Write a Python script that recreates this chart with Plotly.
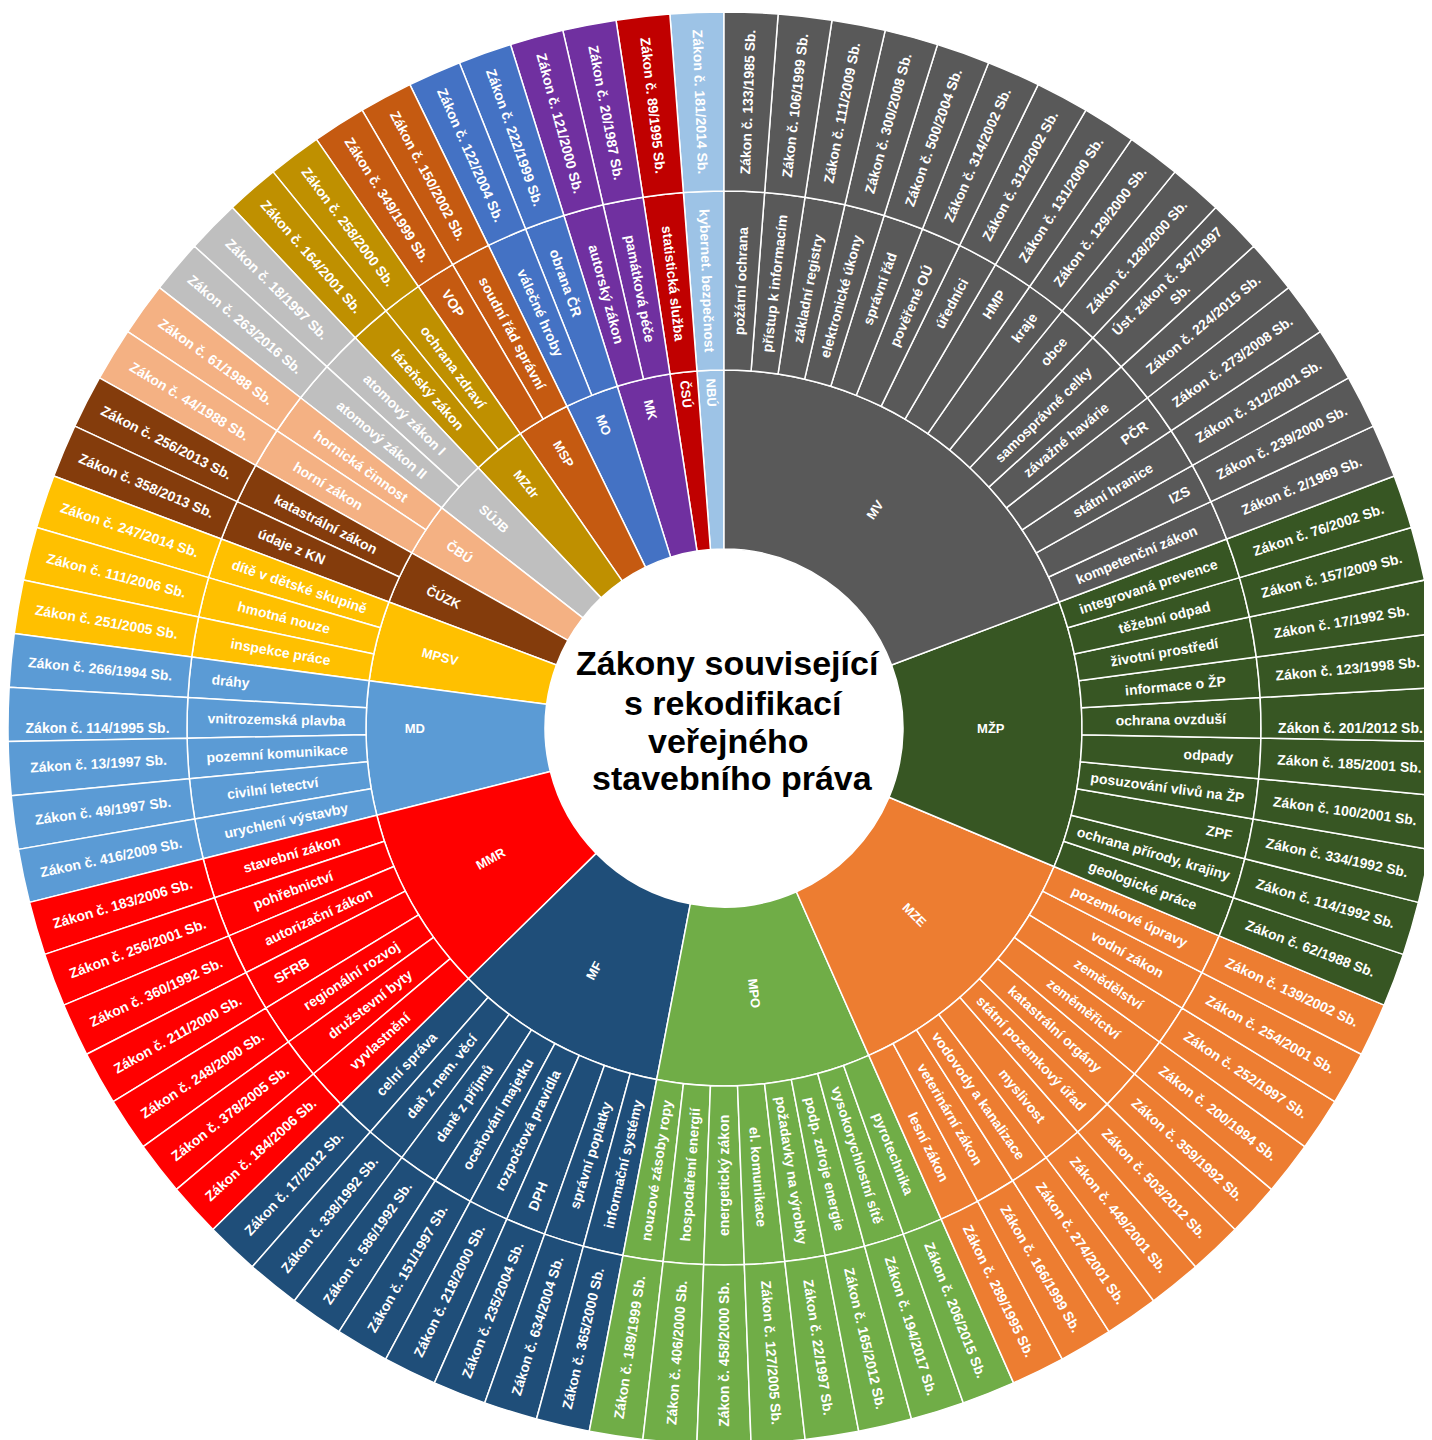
import plotly.graph_objects as go

# ---------------- data (clockwise from 12 o'clock) ----------------
ministries = ["MV", "MŽP", "MZE", "MPO", "MF", "MMR", "MD", "MPSV", "ČÚZK",
              "ČBÚ", "SÚJB", "MZdr", "MSP", "MO", "MK", "ČSÚ", "NBÚ"]
ministry_colors = ["#595959", "#375623", "#ED7D31", "#70AD47", "#1F4E79",
                   "#FF0000", "#5B9BD5", "#FFC000", "#843C0C", "#F4B183",
                   "#BFBFBF", "#BF9000", "#C55A11", "#4472C4", "#7030A0",
                   "#C00000", "#9DC3E6"]
topic_counts = [16, 10, 10, 8, 8, 7, 5, 3, 2, 2, 2, 2, 2, 2, 2, 1, 1]

topics = [
    # MV
    "požární ochrana", "přístup k informacím", "základní registry",
    "elektronické úkony", "správní řád", "pověřené OÚ", "úředníci", "HMP",
    "kraje", "obce", "samosprávné celky", "závažné havárie", "PČR",
    "státní hranice", "IZS", "kompetenční zákon",
    # MŽP
    "integrovaná prevence", "těžební odpad", "životní prostředí",
    "informace o ŽP", "ochrana ovzduší", "odpady", "posuzování vlivů na ŽP",
    "ZPF", "ochrana přírody, krajiny", "geologické práce",
    # MZE
    "pozemkové úpravy", "vodní zákon", "zemědělství", "zeměměřictví",
    "katastrální orgány", "státní pozemkový úřad", "myslivost",
    "vodovody a kanalizace", "veterinární zákon", "lesní zákon",
    # MPO
    "pyrotechnika", "vysokorychlostní sítě", "podp. zdroje energie",
    "požadavky na výrobky", "el. komunikace", "energetický zákon",
    "hospodaření energií", "nouzové zásoby ropy",
    # MF
    "informační systémy", "správní poplatky", "DPH", "rozpočtová pravidla",
    "oceňování majetku", "daně z příjmů", "daň z nem. věcí", "celní správa",
    # MMR
    "vyvlastnění", "družstevní byty", "regionální rozvoj", "SFRB",
    "autorizační zákon", "pohřebnictví", "stavební zákon",
    # MD
    "urychlení výstavby", "civilní letectví", "pozemní komunikace",
    "vnitrozemská plavba", "dráhy",
    # MPSV
    "inspekce práce", "hmotná nouze", "dítě v dětské skupině",
    # ČÚZK
    "údaje z KN", "katastrální zákon",
    # ČBÚ
    "horní zákon", "hornická činnost",
    # SÚJB
    "atomový zákon II", "atomový zákon I",
    # MZdr
    "lázeňský zákon", "ochrana zdraví",
    # MSP
    "VOP", "soudní řád správní",
    # MO
    "válečné hroby", "obrana ČR",
    # MK
    "autorský zákon", "památková péče",
    # ČSÚ
    "statistická služba",
    # NBÚ
    "kybernet. bezpečnost",
]

laws = [
    # MV
    "Zákon č. 133/1985 Sb.", "Zákon č. 106/1999 Sb.", "Zákon č. 111/2009 Sb.",
    "Zákon č. 300/2008 Sb.", "Zákon č. 500/2004 Sb.", "Zákon č. 314/2002 Sb.",
    "Zákon č. 312/2002 Sb.", "Zákon č. 131/2000 Sb.", "Zákon č. 129/2000 Sb.",
    "Zákon č. 128/2000 Sb.", "Úst. zákon č. 347/1997<br>Sb.",
    "Zákon č. 224/2015 Sb.", "Zákon č. 273/2008 Sb.", "Zákon č. 312/2001 Sb.",
    "Zákon č. 239/2000 Sb.", "Zákon č. 2/1969 Sb.",
    # MŽP
    "Zákon č. 76/2002 Sb.", "Zákon č. 157/2009 Sb.", "Zákon č. 17/1992 Sb.",
    "Zákon č. 123/1998 Sb.", "Zákon č. 201/2012 Sb.", "Zákon č. 185/2001 Sb.",
    "Zákon č. 100/2001 Sb.", "Zákon č. 334/1992 Sb.", "Zákon č. 114/1992 Sb.",
    "Zákon č. 62/1988 Sb.",
    # MZE
    "Zákon č. 139/2002 Sb.", "Zákon č. 254/2001 Sb.", "Zákon č. 252/1997 Sb.",
    "Zákon č. 200/1994 Sb.", "Zákon č. 359/1992 Sb.", "Zákon č. 503/2012 Sb.",
    "Zákon č. 449/2001 Sb.", "Zákon č. 274/2001 Sb.", "Zákon č. 166/1999 Sb.",
    "Zákon č. 289/1995 Sb.",
    # MPO
    "Zákon č. 206/2015 Sb.", "Zákon č. 194/2017 Sb.", "Zákon č. 165/2012 Sb.",
    "Zákon č. 22/1997 Sb.", "Zákon č. 127/2005 Sb.", "Zákon č. 458/2000 Sb.",
    "Zákon č. 406/2000 Sb.", "Zákon č. 189/1999 Sb.",
    # MF
    "Zákon č. 365/2000 Sb.", "Zákon č. 634/2004 Sb.", "Zákon č. 235/2004 Sb.",
    "Zákon č. 218/2000 Sb.", "Zákon č. 151/1997 Sb.", "Zákon č. 586/1992 Sb.",
    "Zákon č. 338/1992 Sb.", "Zákon č. 17/2012 Sb.",
    # MMR
    "Zákon č. 184/2006 Sb.", "Zákon č. 378/2005 Sb.", "Zákon č. 248/2000 Sb.",
    "Zákon č. 211/2000 Sb.", "Zákon č. 360/1992 Sb.", "Zákon č. 256/2001 Sb.",
    "Zákon č. 183/2006 Sb.",
    # MD
    "Zákon č. 416/2009 Sb.", "Zákon č. 49/1997 Sb.", "Zákon č. 13/1997 Sb.",
    "Zákon č. 114/1995 Sb.", "Zákon č. 266/1994 Sb.",
    # MPSV
    "Zákon č. 251/2005 Sb.", "Zákon č. 111/2006 Sb.", "Zákon č. 247/2014 Sb.",
    # ČÚZK
    "Zákon č. 358/2013 Sb.", "Zákon č. 256/2013 Sb.",
    # ČBÚ
    "Zákon č. 44/1988 Sb.", "Zákon č. 61/1988 Sb.",
    # SÚJB
    "Zákon č. 263/2016 Sb.", "Zákon č. 18/1997 Sb.",
    # MZdr
    "Zákon č. 164/2001 Sb.", "Zákon č. 258/2000 Sb.",
    # MSP
    "Zákon č. 349/1999 Sb.", "Zákon č. 150/2002 Sb.",
    # MO
    "Zákon č. 122/2004 Sb.", "Zákon č. 222/1999 Sb.",
    # MK
    "Zákon č. 121/2000 Sb.", "Zákon č. 20/1987 Sb.",
    # ČSÚ
    "Zákon č. 89/1995 Sb.",
    # NBÚ
    "Zákon č. 181/2014 Sb.",
]

title_lines = ["Zákony související", "s rekodifikací", "veřejného", "stavebního práva"]

# ---------------- build hierarchy ----------------
ids, labels, parents, colors, sizes = [], [], [], [], []
idx = 0
for m, col, n in zip(ministries, ministry_colors, topic_counts):
    ids.append(m); labels.append(m); parents.append("root"); colors.append(col); sizes.append(13)
    for k in range(n):
        t = topics[idx]
        law = laws[idx]
        tid = m + "/" + t
        ids.append(tid); labels.append(t); parents.append(m); colors.append(col); sizes.append(14)
        lid = tid + "/" + law
        ids.append(lid); labels.append(law); parents.append(tid); colors.append(col); sizes.append(14)
        idx += 1

# plotly lays sectors out counterclockwise -> reverse for clockwise order
ids, labels, parents, colors, sizes = (list(reversed(a)) for a in (ids, labels, parents, colors, sizes))

# white central root (hole holding the title)
ids = ["root"] + ids
labels = [" "] + labels
parents = [""] + parents
colors = ["white"] + colors
sizes = [1] + sizes

fig = go.Figure(go.Sunburst(
    ids=ids,
    labels=labels,
    parents=parents,
    sort=False,
    rotation=90,
    textinfo="label",
    insidetextorientation="radial",
    insidetextfont=dict(family="Arial, Liberation Sans, sans-serif", size=sizes,
                        color="white", weight="bold"),
    marker=dict(colors=colors, line=dict(color="white", width=1.5)),
    leaf=dict(opacity=1),
    hoverinfo="label",
))

xs = [4, 9, 4, 8]
ys = [65, 25, -13, -50]
for line, dx, dy in zip(title_lines, xs, ys):
    fig.add_annotation(
        text=line, x=0.5, y=0.5, xref="paper", yref="paper",
        xanchor="center", yanchor="middle", xshift=dx, yshift=dy,
        showarrow=False,
        font=dict(family="Arial, Liberation Sans, sans-serif", size=34,
                  color="black", weight="bold"),
    )

fig.update_layout(
    width=1432, height=1440,
    margin=dict(l=0, r=0, t=0, b=0),
    paper_bgcolor="white",
    showlegend=False,
)

fig.write_html("out.html")
